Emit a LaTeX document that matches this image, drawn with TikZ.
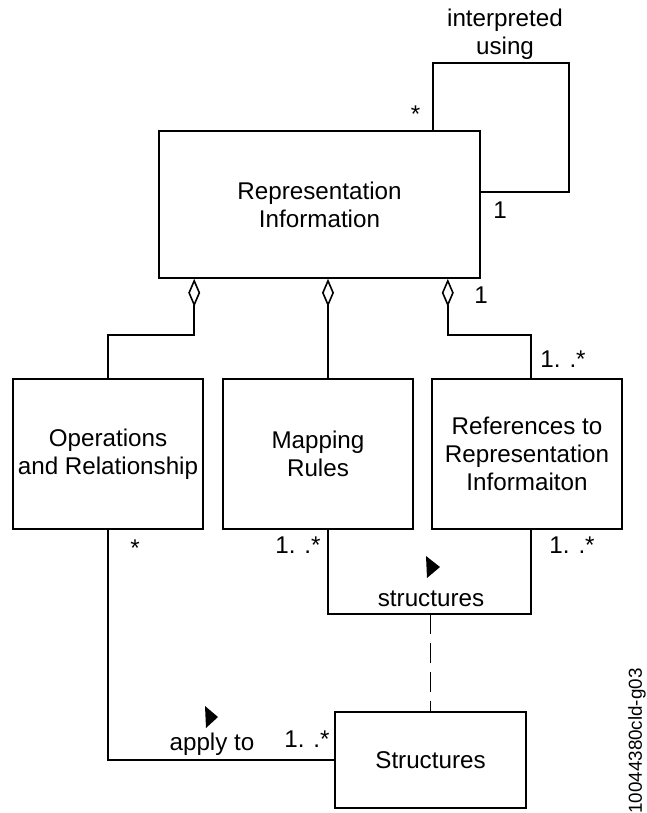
\documentclass[tikz,border=0pt]{standalone}
\usepackage{fontspec}
\setmainfont{Liberation Sans}
\usetikzlibrary{arrows.meta, calc}

\begin{document}
\begin{tikzpicture}[x=0.5pt, y=-0.5pt, line width=0.8pt,
    font=\fontsize{12.1}{14}\selectfont,
    cls/.style={draw, align=center, inner sep=0pt},
    agg/.style={{Diamond[open, length=14pt, width=6pt]}-},
    mult/.style={anchor=base},
    dep/.style={dash pattern=on 10pt off 4.5pt}]
    \useasboundingbox (0,0) rectangle (647,813);

    % classes
    \node[cls, minimum width=160.5pt, minimum height=73.5pt] (ri) at (319.5,204.5) {Representation\\Information};
    \node[cls, minimum width=95pt, minimum height=75pt] (ops) at (108,454) {Operations\\and Relationship};
    \node[cls, minimum width=95pt, minimum height=75pt] (maps) at (318,454) {Mapping\\Rules};
    \node[cls, minimum width=95pt, minimum height=75pt] (refs) at (527,454) {References to\\Representation\\Informaiton};
    \node[cls, minimum width=95.5pt, minimum height=48pt] (st) at (430.5,760) {Structures};

    % self association
    \draw ($(ri.north east)+(-48,0)$) |- ($(ri.north east)+(88,-67)$) |- ($(ri.east)+(0,-12.5)$);
    \node[align=center] (interp) at (505,34) {interpreted\\using};
    \node[mult] (m1) at (415.5,123) {*};
    \node[mult] (m2) at (500,218.5) {1};

    % aggregation
    \draw[agg] ($(ri.south west)+(36,0)$) |- ($(ops.north)+(0,-43)$) -- (ops.north);
    \draw[agg] ($(ri.south)+(8.5,0)$) -- ($(maps.north)+(10,0)$);
    \draw[agg] ($(ri.south east)+(-33,0)$) |- ($(refs.north)+(4,-43)$) -- ($(refs.north)+(4,0)$);
    \node[mult] (m3) at (481,303) {1};
    \node[mult] (m4) at (563,367) {1. .*};

    % structures association
    \coordinate (sbar) at (430.5,614);
    \draw ($(maps.south)+(10,0)$) |- (sbar) -| ($(refs.south)+(4,0)$);
    \draw[dep] (sbar) -- (st.north);
    \node[mult] (m6) at (298,553) {1. .*};
    \node[mult] (m7) at (572,553) {1. .*};
    \node[mult] (lbl1) at (431,606) {structures};
    \fill (426,556) -- (440,567) -- (427,578) -- cycle;

    % apply to
    \draw (ops.south) |- (st.west);
    \node[mult] (m5) at (135,556) {*};
    \node[mult] (m8) at (307,747) {1. .*};
    \node[mult] (lbl2) at (212,750) {apply to};
    \fill (205,706) -- (218,717) -- (206,728) -- cycle;

    \node[rotate=90, font=\fontsize{9.4}{11}\selectfont] (figid) at (637,741) {10044380cld-g03};
\end{tikzpicture}
\end{document}
